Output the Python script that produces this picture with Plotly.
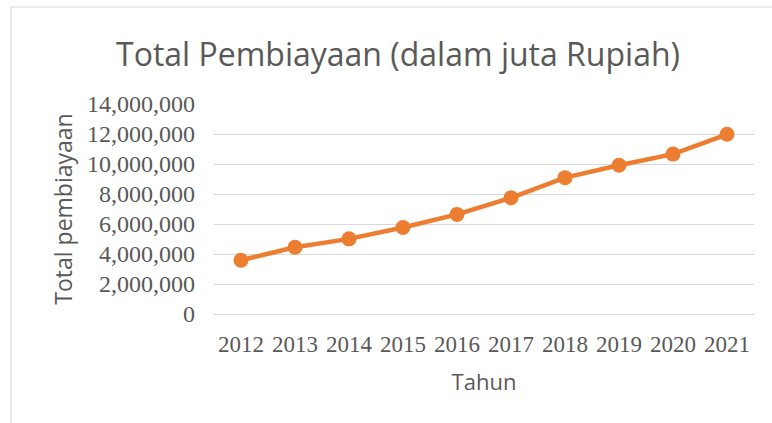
import plotly.graph_objects as go

years = ["2012", "2013", "2014", "2015", "2016", "2017", "2018", "2019", "2020", "2021"]
total_pembiayaan = [3580000, 4450000, 5010000, 5770000, 6640000, 7750000, 9090000, 9920000, 10660000, 11980000]

chart_title = "Total Pembiayaan (dalam juta Rupiah)"
x_title = "Tahun"
y_title = "Total pembiayaan"

W, H = 772, 423
L, R, T, B = 214, 18, 104, 109

pw = W - L - R
ph = H - T - B

def px_x(p):
    return (p - L) / pw

def px_y(p):
    return (H - B - p) / ph

fig = go.Figure()
fig.add_trace(go.Scatter(
    x=years, y=total_pembiayaan, mode="lines+markers",
    line=dict(color="#ED7D31", width=4.5),
    marker=dict(color="#ED7D31", size=15),
    showlegend=False, hoverinfo="x+y",
))

fig.update_layout(
    width=W, height=H,
    margin=dict(l=L, r=R, t=T, b=B, autoexpand=False),
    paper_bgcolor="white", plot_bgcolor="white",
    title=dict(text=chart_title, x=px_x(398), xref="paper", xanchor="center",
               y=1 - 55 / H, yanchor="middle",
               font=dict(family="Open Sans", size=32, color="#595959")),
    xaxis=dict(type="category", range=[-0.5, len(years) - 0.5],
               showgrid=False, showline=False, zeroline=False,
               ticks="", ticklabelstandoff=14,
               tickfont=dict(family="Liberation Serif", size=23, color="#595959"),
               title=dict(text=x_title, standoff=18,
                          font=dict(family="Open Sans", size=22, color="#595959"))),
    yaxis=dict(range=[0, 14000000], dtick=2000000, tickformat=",",
               showgrid=True, gridcolor="#D9D9D9", gridwidth=1.3,
               zeroline=True, zerolinecolor="#D9D9D9", zerolinewidth=1.3,
               showline=False, ticks="", ticklabelstandoff=18,
               tickfont=dict(family="Liberation Serif", size=24, color="#595959"),
               title=dict(text=y_title, standoff=7,
                          font=dict(family="Open Sans", size=23, color="#595959"))),
    shapes=[dict(type="rect", xref="paper", yref="paper",
                 x0=px_x(11), x1=px_x(800), y0=px_y(450), y1=px_y(7),
                 line=dict(color="#D9D9D9", width=1.2), fillcolor="rgba(0,0,0,0)",
                 layer="below")],
)

fig.write_html("out.html", config={"displayModeBar": False},
               post_script="document.body.style.margin='0';document.body.style.overflow='hidden';")
